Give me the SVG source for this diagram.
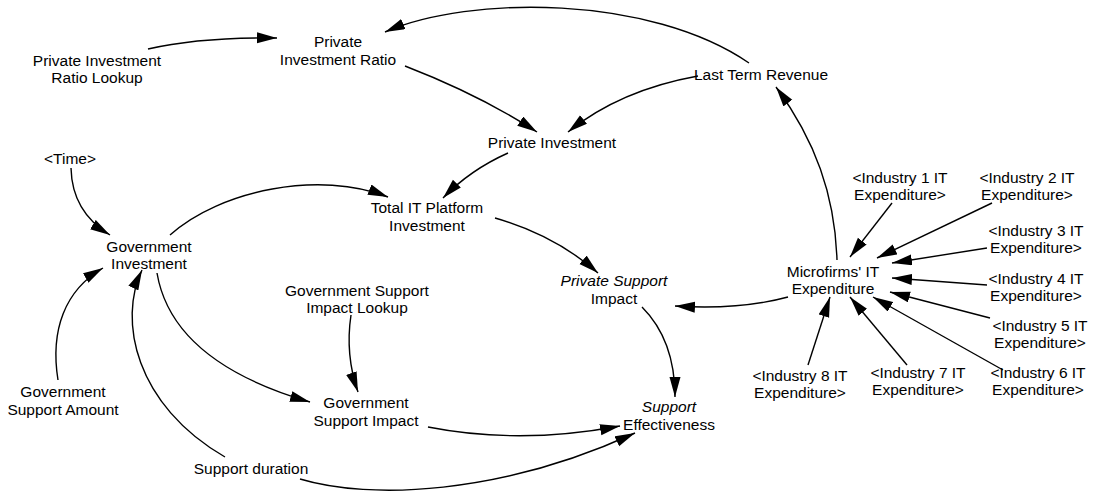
<svg xmlns="http://www.w3.org/2000/svg" width="1096" height="497" viewBox="0 0 1096 497">
  <style>
    text { font-family: "Liberation Sans", Arial, sans-serif; font-size: 15.5px; fill: #000; text-anchor: middle; }
    .it { font-style: italic; }
    .link { fill: none; stroke: #000; stroke-width: 1.4; marker-end: url(#head); }
  </style>
  <defs>
    <marker id="head" markerUnits="userSpaceOnUse" markerWidth="22" markerHeight="12" refX="20" refY="5.5" orient="auto">
      <path d="M0,0 L20,5.5 L0,11 z" fill="#000"/>
    </marker>
  </defs>
  <rect width="1096" height="497" fill="#fff"/>

  <g id="connectors">
    <path class="link" d="M148,49 Q200,37 277,38"/>
    <path class="link" d="M749,63 C650,-5 470,-5 385,32"/>
    <path class="link" d="M405,66 Q480,95 537,132"/>
    <path class="link" d="M698,76 Q620,90 568,132"/>
    <path class="link" d="M508,153 Q470,170 443,198"/>
    <path class="link" d="M170,235 C220,190 320,170 388,197"/>
    <path class="link" d="M71,168 Q72,212 110,235"/>
    <path class="link" d="M58,380 C50,330 65,290 103,268"/>
    <path class="link" d="M225,457 C135,405 118,320 142,270"/>
    <path class="link" d="M157,273 C165,320 200,370 310,402"/>
    <path class="link" d="M351,315 Q345,355 358,392"/>
    <path class="link" d="M495,218 Q555,235 598,273"/>
    <path class="link" d="M788,297 Q740,310 675,306"/>
    <path class="link" d="M642,307 Q675,340 675,397"/>
    <path class="link" d="M428,427 Q520,445 620,426"/>
    <path class="link" d="M300,479 C370,500 500,495 635,433"/>
    <path class="link" d="M837,260 C835,195 815,140 776,87"/>
    <path class="link" d="M892,203 L850,257"/>
    <path class="link" d="M992,203 L877,258"/>
    <path class="link" d="M987,248 L892,263"/>
    <path class="link" d="M987,285 L892,278"/>
    <path class="link" d="M990,318 L890,292"/>
    <path class="link" d="M1003,370 L873,297"/>
    <path class="link" d="M907,365 L850,297"/>
    <path class="link" d="M808,365 L830,297"/>
  </g>

  <g id="private-investment-ratio-lookup"><text x="97" y="66">Private Investment</text><text x="97" y="83">Ratio Lookup</text></g>
  <g id="private-investment-ratio"><text x="338" y="47">Private</text><text x="338" y="65">Investment Ratio</text></g>
  <g id="last-term-revenue"><text x="761" y="80">Last Term Revenue</text></g>
  <g id="private-investment"><text x="552" y="148">Private Investment</text></g>
  <g id="time"><text x="70" y="164">&lt;Time&gt;</text></g>
  <g id="government-investment"><text x="149" y="252">Government</text><text x="149" y="269">Investment</text></g>
  <g id="total-it-platform-investment"><text x="427" y="213">Total IT Platform</text><text x="427" y="231">Investment</text></g>
  <g id="government-support-impact-lookup"><text x="357" y="296">Government Support</text><text x="357" y="313">Impact Lookup</text></g>
  <g id="private-support-impact"><text x="614" y="286" class="it">Private Support</text><text x="614" y="304">Impact</text></g>
  <g id="government-support-impact"><text x="366" y="408">Government</text><text x="366" y="426">Support Impact</text></g>
  <g id="support-effectiveness"><text x="669" y="412" class="it">Support</text><text x="669" y="430">Effectiveness</text></g>
  <g id="support-duration"><text x="251" y="474">Support duration</text></g>
  <g id="government-support-amount"><text x="63" y="397">Government</text><text x="63" y="415">Support Amount</text></g>
  <g id="microfirms-it-expenditure"><text x="833" y="277">Microfirms' IT</text><text x="833" y="294">Expenditure</text></g>
  <g id="industry-1"><text x="900" y="183">&lt;Industry 1 IT</text><text x="900" y="200">Expenditure&gt;</text></g>
  <g id="industry-2"><text x="1027" y="183">&lt;Industry 2 IT</text><text x="1027" y="200">Expenditure&gt;</text></g>
  <g id="industry-3"><text x="1036" y="236">&lt;Industry 3 IT</text><text x="1036" y="253">Expenditure&gt;</text></g>
  <g id="industry-4"><text x="1036" y="284">&lt;Industry 4 IT</text><text x="1036" y="301">Expenditure&gt;</text></g>
  <g id="industry-5"><text x="1040" y="331">&lt;Industry 5 IT</text><text x="1040" y="348">Expenditure&gt;</text></g>
  <g id="industry-6"><text x="1038" y="378">&lt;Industry 6 IT</text><text x="1038" y="395">Expenditure&gt;</text></g>
  <g id="industry-7"><text x="918" y="378">&lt;Industry 7 IT</text><text x="918" y="395">Expenditure&gt;</text></g>
  <g id="industry-8"><text x="800" y="381">&lt;Industry 8 IT</text><text x="800" y="398">Expenditure&gt;</text></g>
</svg>
